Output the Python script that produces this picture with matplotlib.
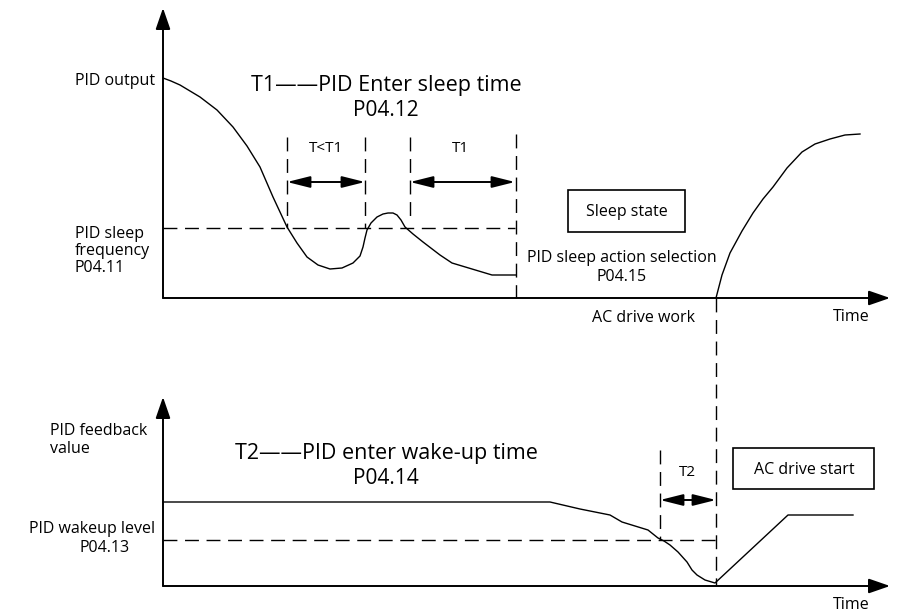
import matplotlib
matplotlib.use("Agg")
import matplotlib.pyplot as plt
from matplotlib.patches import Rectangle

plt.rcParams['font.family'] = ['Open Sans', 'DejaVu Sans']

# ---- data (in pixel units of the diagram) ----
pid_output_x = [163, 171, 180, 190, 200, 217, 233, 247, 260, 273, 287, 297, 307, 318, 330, 342, 353, 360, 363, 365, 367, 371, 377, 383, 388, 393, 397, 401, 405, 413, 423, 440, 452, 472, 492, 516]
pid_output_y = [78, 81, 85, 91, 97, 110, 127, 146, 167, 197, 227, 243, 257, 265, 269, 268, 263, 256, 247, 238, 230, 223, 217, 214, 213, 213, 215, 220, 227, 234, 242, 255, 263, 269, 275, 275]

wake_curve_x = [716, 722, 730, 742, 753, 763, 773, 787, 802, 815, 830, 845, 860]
wake_curve_y = [298, 275, 253, 231, 213, 199, 187, 168, 152, 144, 139, 135, 134]

feedback_x = [163, 550, 580, 610, 622, 635, 648, 653, 658, 664, 670, 678, 687, 692, 697, 705, 715, 788, 853]
feedback_y = [502, 502, 509, 515, 522, 526, 530, 534, 538, 541, 545, 552, 562, 570, 575, 580, 583, 515, 515]

sleep_level_y = 228
wake_level_y = 540

fig = plt.figure(figsize=(9.0, 6.16), dpi=100)
ax = fig.add_axes([0, 0, 1, 1])
ax.set_xlim(0, 900)
ax.set_ylim(616, 0)
ax.axis('off')

K = 'black'
LW = 1.0
DASH = (0, (10, 5.5))
FS = 11.5

def axis_arrow(x0, y0, x1, y1):
    ax.annotate('', xy=(x1, y1), xytext=(x0, y0),
                arrowprops=dict(arrowstyle='-|>,head_length=1.3,head_width=0.45',
                                color=K, lw=1.4, shrinkA=0, shrinkB=0))

def dim_arrow(x0, x1, y):
    ax.annotate('', xy=(x1, y), xytext=(x0, y),
                arrowprops=dict(arrowstyle='<|-|>,head_length=1.4,head_width=0.35',
                                color=K, lw=1.4, shrinkA=0, shrinkB=0))

# ---------------- top panel ----------------
axis_arrow(163, 298, 163, 8)
axis_arrow(163, 298, 890, 298)
ax.plot(pid_output_x, pid_output_y, color=K, lw=LW)
ax.plot([163, 515], [sleep_level_y, sleep_level_y], color=K, lw=LW, ls=DASH)
for x, ytop, ybot in [(287, 137, 228), (365, 137, 228), (410, 137, 222), (516, 134, 298)]:
    ax.plot([x, x], [ytop, ybot], color=K, lw=LW, ls=DASH)
dim_arrow(287, 365, 182)
dim_arrow(410, 515, 182)
ax.text(326, 148, 'T<T1', fontsize=11, ha='center', va='center')
ax.text(460, 148, 'T1', fontsize=11, ha='center', va='center')
ax.text(386, 86, 'T1\u2014\u2014PID Enter sleep time', fontsize=15.5, ha='center', va='center')
ax.text(386, 111, 'P04.12', fontsize=15, ha='center', va='center')
ax.text(155, 81, 'PID output', fontsize=FS, ha='right', va='center')
ax.text(75, 251, 'PID sleep\nfrequency\nP04.11', fontsize=FS, ha='left', va='center', linespacing=1.1)
ax.add_patch(Rectangle((568, 190), 117, 42, fill=False, ec=K, lw=1.2))
ax.text(627, 212, 'Sleep state', fontsize=FS, ha='center', va='center')
ax.text(622, 258, 'PID sleep action selection', fontsize=FS, ha='center', va='center')
ax.text(622, 277, 'P04.15', fontsize=FS, ha='center', va='center')
ax.plot(wake_curve_x, wake_curve_y, color=K, lw=LW)
ax.text(643, 318, 'AC drive work', fontsize=FS, ha='center', va='center')
ax.text(851, 317, 'Time', fontsize=FS, ha='center', va='center')
ax.plot([716, 716], [298, 585], color=K, lw=LW, ls=DASH)

# ---------------- bottom panel ----------------
axis_arrow(163, 586, 163, 397)
axis_arrow(163, 586, 890, 586)
ax.plot(feedback_x, feedback_y, color=K, lw=LW)
ax.plot([163, 716], [wake_level_y, wake_level_y], color=K, lw=LW, ls=DASH)
ax.plot([660, 660], [450, 540], color=K, lw=LW, ls=DASH)
dim_arrow(660, 716, 500)
ax.text(687, 473, 'T2', fontsize=11, ha='center', va='center')
ax.text(386, 454, 'T2\u2014\u2014PID enter wake-up time', fontsize=15.5, ha='center', va='center')
ax.text(386, 479, 'P04.14', fontsize=15, ha='center', va='center')
ax.text(50, 440, 'PID feedback\nvalue', fontsize=FS, ha='left', va='center', linespacing=1.1)
ax.text(155, 529, 'PID wakeup level', fontsize=FS, ha='right', va='center')
ax.text(105, 548, 'P04.13', fontsize=FS, ha='center', va='center')
ax.add_patch(Rectangle((733, 448), 141, 41, fill=False, ec=K, lw=1.2))
ax.text(804, 470, 'AC drive start', fontsize=FS, ha='center', va='center')
ax.text(851, 605, 'Time', fontsize=FS, ha='center', va='center')

fig.savefig('out.png', dpi=100)
